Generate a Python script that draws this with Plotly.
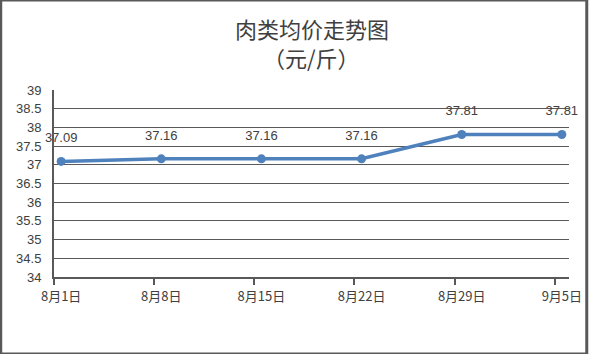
import plotly.graph_objects as go

dates = ["2023-08-01 12:00", "2023-08-08 12:00", "2023-08-15 12:00",
         "2023-08-22 12:00", "2023-08-29 12:00", "2023-09-05 12:00"]
tick_labels = ["8月1日", "8月8日", "8月15日", "8月22日", "8月29日", "9月5日"]
prices = [37.09, 37.16, 37.16, 37.16, 37.81, 37.81]
label_text = ["37.09", "37.16", "37.16", "37.16", "37.81", "37.81"]

fig = go.Figure()
fig.add_trace(go.Scatter(
    x=dates, y=prices, mode="lines+markers",
    line=dict(color="#4F81BD", width=3.5),
    marker=dict(color="#4F81BD", size=9),
    cliponaxis=False,
))
fig.add_trace(go.Scatter(
    x=dates, y=prices, mode="markers+text",
    marker=dict(color="rgba(0,0,0,0)", size=24),
    text=label_text, textposition="top center",
    textfont=dict(size=13, color="#404040", family="Liberation Sans, Arial"),
    cliponaxis=False, hoverinfo="skip",
))

fig.update_layout(
    width=594, height=354,
    margin=dict(l=54, r=18, t=90, b=77),
    paper_bgcolor="white", plot_bgcolor="white",
    showlegend=False,
    annotations=[
        dict(text="肉类均价走势图", xref="paper", yref="paper", x=0.5,
             y=1 + 62/187, xanchor="center", yanchor="middle", showarrow=False,
             font=dict(size=22, color="#404040", family="Noto Sans CJK SC")),
        dict(text="（元/斤）", xref="paper", yref="paper", x=0.5,
             y=1 + 33/187, xanchor="center", yanchor="middle", showarrow=False,
             font=dict(size=22, color="#404040", family="Noto Sans CJK SC")),
    ],
    xaxis=dict(
        type="date", range=["2023-08-01", "2023-09-06"],
        tickvals=dates, ticktext=tick_labels, ticks="", ticklen=0,
        ticklabelstandoff=6,
        showgrid=False, zeroline=False,
        showline=True, linecolor="#595959", linewidth=2,
        tickfont=dict(size=13, color="#404040", family="Noto Sans CJK SC"),
        minor=dict(ticks="outside", ticklen=6, tickwidth=2, tickcolor="#595959",
                   dtick=7 * 86400000, tick0="2023-08-01", showgrid=False),
    ),
    yaxis=dict(
        range=[34, 39], dtick=0.5, tick0=34,
        showgrid=True, gridcolor="#595959", gridwidth=1,
        showline=True, linecolor="#595959", linewidth=2,
        zeroline=False, ticks="", ticklabelstandoff=8,
        tickfont=dict(size=13, color="#404040", family="Liberation Sans, Arial"),
    ),
    shapes=[dict(type="rect", xref="paper", yref="paper",
                 x0=-54/522, x1=1+18/522, y0=-77/187, y1=1+90/187,
                 line=dict(color="#595959", width=3))],
)

fig.write_html("out.html")
